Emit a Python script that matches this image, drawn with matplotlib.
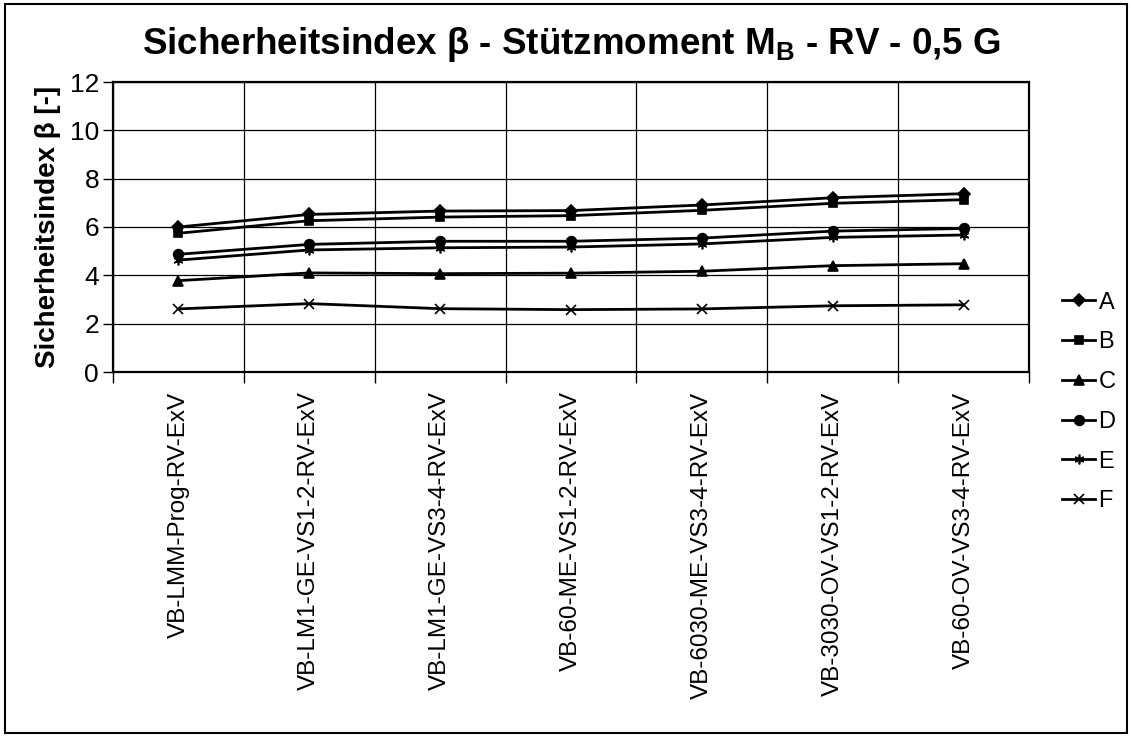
import numpy as np
import matplotlib
matplotlib.use("Agg")
import matplotlib.pyplot as plt
from matplotlib.patches import Rectangle

plt.rcParams['font.family'] = ['Liberation Sans', 'DejaVu Sans']

# --- data ---
categories = ["VB-LMM-Prog-RV-ExV", "VB-LM1-GE-VS1-2-RV-ExV", "VB-LM1-GE-VS3-4-RV-ExV",
              "VB-60-ME-VS1-2-RV-ExV", "VB-6030-ME-VS3-4-RV-ExV", "VB-3030-OV-VS1-2-RV-ExV",
              "VB-60-OV-VS3-4-RV-ExV"]
series_names = ["A", "B", "C", "D", "E", "F"]
A = [6.00, 6.52, 6.66, 6.68, 6.91, 7.21, 7.38]
B = [5.74, 6.26, 6.41, 6.47, 6.69, 6.98, 7.13]
C = [3.78, 4.10, 4.07, 4.09, 4.17, 4.40, 4.48]
D = [4.87, 5.28, 5.41, 5.41, 5.54, 5.83, 5.94]
E = [4.63, 5.05, 5.14, 5.17, 5.30, 5.57, 5.67]
F = [2.61, 2.83, 2.62, 2.58, 2.61, 2.74, 2.78]
values = [A, B, C, D, E, F]

markers = {"A": "D", "B": "s", "C": "^", "D": "o", "E": (6, 2, 0), "F": "x"}
msizes = {"A": 6, "B": 6, "C": 7, "D": 7, "E": 7, "F": 7}

fig = plt.figure(figsize=(11.32, 7.37), dpi=100)
ax = fig.add_axes([113/1132, 1-372/737, (1029-113)/1132, (372-82)/737])

x = np.arange(len(categories))
for name, vals in zip(series_names, values):
    ax.plot(x, vals, color="black", lw=2, marker=markers[name], ms=msizes[name],
            mfc="black", mec="black", mew=1.2, label=name)

ax.set_xlim(-0.5, len(categories)-0.5)
ax.set_ylim(0, 12)
ax.set_yticks(np.arange(0, 13, 2))
ax.tick_params(axis="y", direction="out", length=7, width=1, labelsize=19, pad=3)

# category boundaries carry the ticks + vertical grid, labels sit in between
ax.set_xticks(np.arange(-0.5, len(categories), 1.0))
ax.set_xticklabels([])
ax.set_xticks(x, minor=True)
ax.set_xticklabels(categories, minor=True, rotation=90, fontsize=17.5, va="top", ha="center")
ax.tick_params(axis="x", which="major", direction="out", length=8, width=1)
ax.tick_params(axis="x", which="minor", length=0, pad=14)

ax.grid(True, which="major", color="black", lw=0.9)
ax.set_axisbelow(True)
for sp in ax.spines.values():
    sp.set_linewidth(1.6)

ax.set_ylabel("Sicherheitsindex β [-]", fontsize=20, fontweight="bold", labelpad=6)
fig.text(0.505, 0.94, r"Sicherheitsindex β - Stützmoment M$_\mathregular{B}$ - RV - 0,5 G",
         fontsize=26.5, fontweight="bold", ha="center", va="center")

fig.legend(loc="center left", bbox_to_anchor=(1062/1132, 1-402/737), frameon=False,
           fontsize=17, handlelength=1.4, handletextpad=0.15, labelspacing=0.75,
           borderpad=0, borderaxespad=0)

# outer chart border
fig.patches.append(Rectangle((0.004, 0.005), 0.992, 0.99, transform=fig.transFigure,
                             fill=False, edgecolor="black", lw=1.5))

fig.savefig("out.png", dpi=100)
